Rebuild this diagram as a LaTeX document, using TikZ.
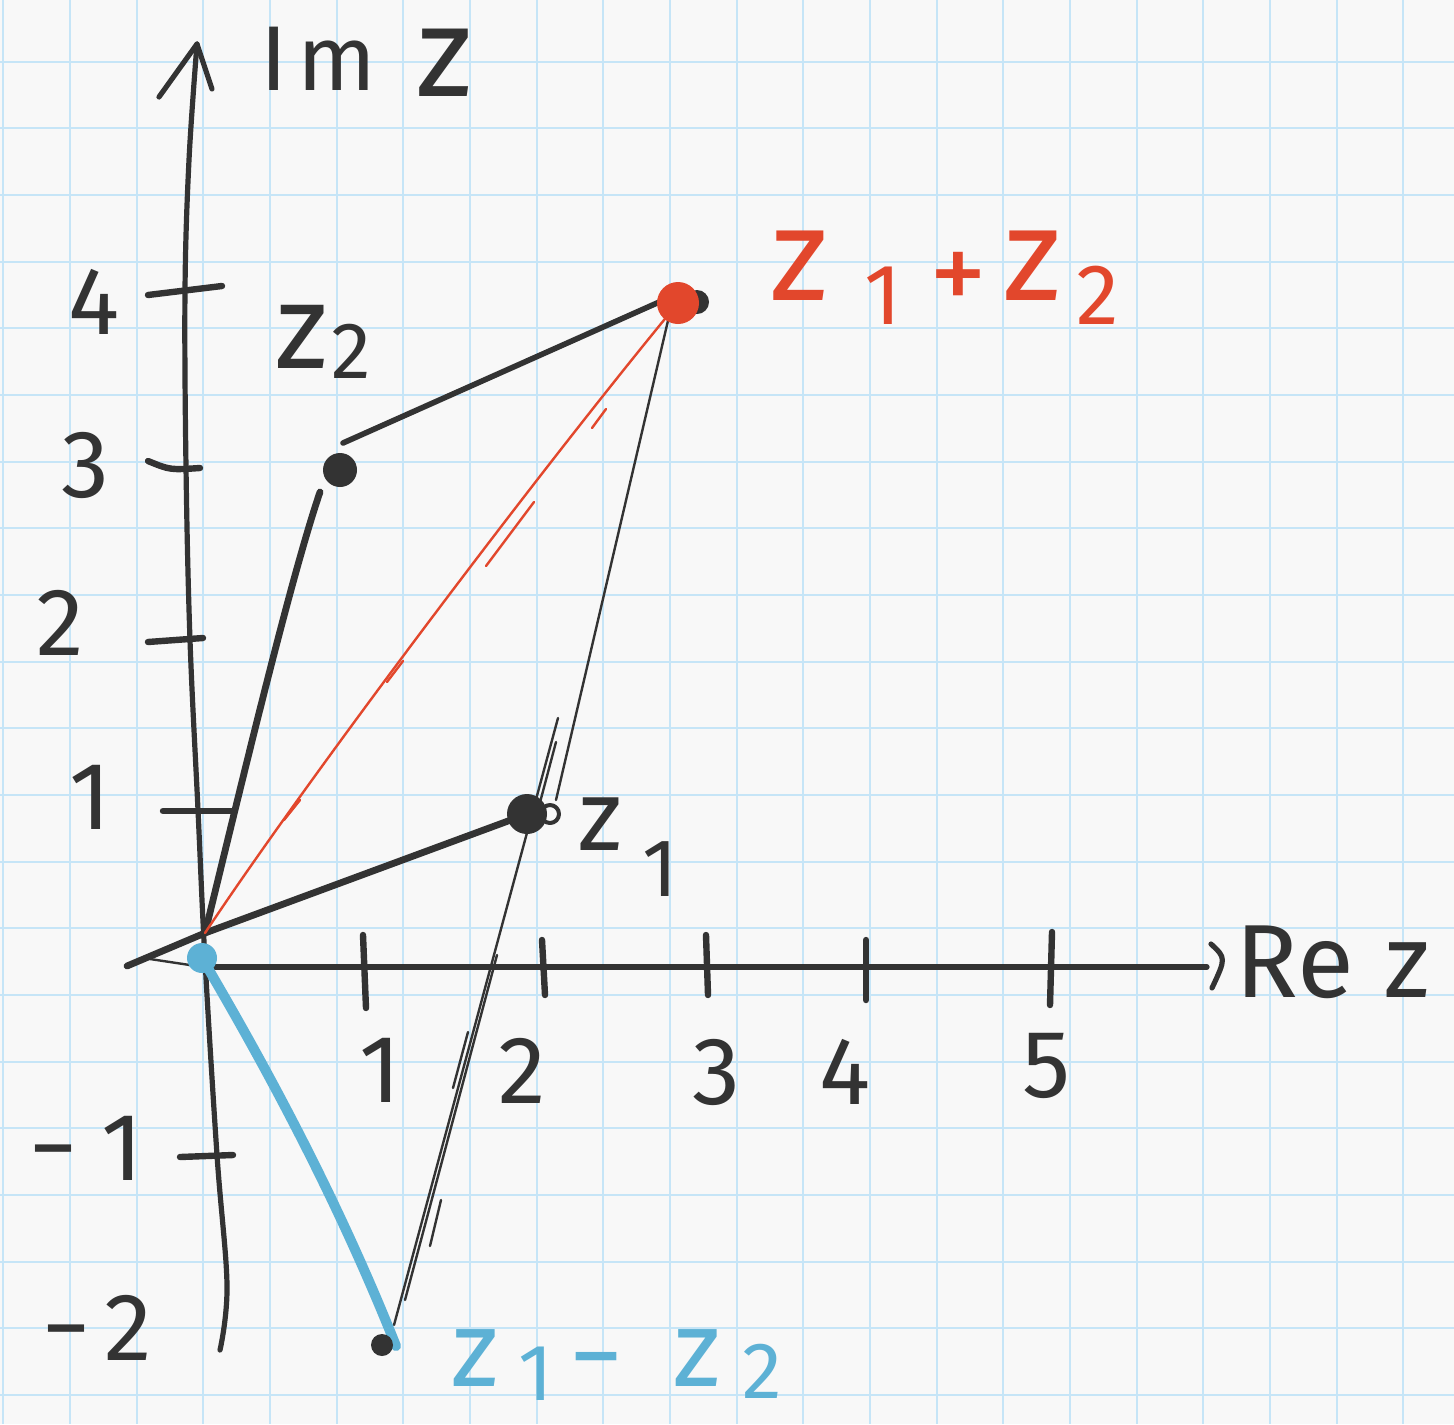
\documentclass[tikz,border=0pt]{standalone}
\usepackage{fontspec}
\setmainfont{Fira Sans}
\definecolor{inkc}{HTML}{333333}
\definecolor{redc}{HTML}{E2472C}
\definecolor{bluec}{HTML}{5DB1D5}
\definecolor{gridc}{HTML}{C6E5F7}
\definecolor{paperc}{HTML}{F8F8F8}
% lowered, smaller digit: #1 = font size, #2 = drop, #3 = text
\newcommand{\lowdig}[3]{\raisebox{-#2}{\fontsize{#1}{#1}\selectfont #3}}
\begin{document}
\begin{tikzpicture}[x=0.5pt,y=-0.5pt,
  gridline/.style={draw=gridc, line width=1.1pt},
  ink/.style={draw=inkc, line cap=round, line join=round},
  axisline/.style={ink, line width=2.6pt},
  tickmark/.style={ink, line width=3.2pt},
  thickline/.style={ink, line width=3.4pt},
  midline/.style={ink, line width=2.8pt},
  thinline/.style={ink, line width=1.2pt},
  redline/.style={draw=redc, line width=1.2pt, line cap=round},
  blueline/.style={draw=bluec, line width=5pt, line cap=round, line join=round},
  dotk/.style={circle, fill=inkc, inner sep=0pt},
  dotr/.style={circle, fill=redc, inner sep=0pt},
  dotb/.style={circle, fill=bluec, inner sep=0pt},
  lbl/.style={text=inkc, inner sep=0pt, font=\fontsize{48}{48}\selectfont},
  sumlbl/.style={inner sep=0pt, anchor=base west}
]
\useasboundingbox (0,0) rectangle (1454,1424);
\fill[paperc] (0,0) rectangle (1454,1424);
\foreach \i in {0,...,21} \draw[gridline] ({3.3+66.667*\i},0) -- ({3.3+66.667*\i},1424);
\foreach \j in {1,...,21} \draw[gridline] (0,{-5+66.667*\j}) -- (1454,{-5+66.667*\j});

% key points
\coordinate (O) at (205,933);
\coordinate (tail) at (127,966);
\coordinate (z1) at (527,814);
\coordinate (z2) at (340,470);
\coordinate (z2lo) at (320,492);
\coordinate (z2hi) at (343,443);
\coordinate (s) at (678,303);
\coordinate (sin) at (666,299);
\coordinate (d) at (382,1345);
\coordinate (dline) at (394,1325);
\coordinate (dblue) at (396,1346);
\coordinate (ob) at (202,958);

% vertical axis
\coordinate (ytop) at (197,44);
\coordinate (ybot) at (220,1350);
\draw[axisline] plot[smooth, tension=0.6] coordinates {(220,1350) (227,1285) (217,1155) (205,960) (198,810) (190,640) (186,467) (185,290) (189,160) (197,44)};
\coordinate (arl) at (159,97);
\coordinate (arr) at (212,89);
\draw[axisline] (arl) -- (ytop) -- (arr);

% horizontal axis
\coordinate (xl) at (150,959);
\coordinate (xo) at (203,967);
\coordinate (xr) at (1207,967);
\draw[thinline] (xl) -- (xo);
\draw[axisline] (xo) -- (xr);
\coordinate (hk1) at (1211,944);
\coordinate (hk2) at (1212,988);
\draw[axisline] (hk1) .. controls (1226,958) .. (hk2);

% ticks
\draw[tickmark] (363,935) -- (366,1008);
\draw[tickmark] (542,940) -- (545,995);
\draw[tickmark] (706,935) -- (708,995);
\draw[tickmark] (866,940) -- (866,1000);
\draw[tickmark] (1052,932) -- (1050,1005);
\draw[tickmark] (148,295) -- (222,286);
\draw[tickmark] (148,461) .. controls (170,470) .. (200,468);
\draw[tickmark] (148,642) -- (203,638);
\draw[tickmark] (163,811) -- (232,811);
\draw[tickmark] (180,1157) -- (233,1155);

% tick labels
\node[lbl] (x1) at (380,1070) {1};
\node[lbl] (x2) at (522,1071) {2};
\node[lbl] (x3) at (716,1072) {3};
\node[lbl] (x4) at (845,1072) {4};
\node[lbl] (x5) at (1047,1066) {5};
\node[lbl] (y4) at (94,302) {4};
\node[lbl] (y3) at (85,465) {3};
\node[lbl] (y2) at (60,623) {2};
\node[lbl] (y1) at (90,797) {1};
\node[lbl] (ym1) at (86,1148) {−\hspace{0.25em}1};
\node[lbl] (ym2) at (97,1328) {−\hspace{0.15em}2};

% axis labels
\node[sumlbl, text=inkc, font=\fontsize{46}{46}\selectfont] (imz) at (260,90)
  {I\hspace{5pt}m\hspace{20pt}{\fontsize{64}{64}\selectfont\raisebox{-3pt}{z}}};
\node[lbl, font=\fontsize{52}{52}\selectfont] (rez) at (1333,962) {Re\hspace{0.3em}z};

% black vectors
\draw[thickline] (tail) -- (O) -- (z1);
\draw[thickline] (O) .. controls (240,790) and (290,580) .. (z2lo);
\draw[midline] (z2hi) -- (sin);

% thin line z1-z2 -> z1 -> z1+z2
\coordinate (upA) at (558,718);
\coordinate (upB) at (556,800);
\coordinate (upC) at (670,312);
\draw[thinline] (dline) -- (upA);
\draw[thinline] (upB) -- (upC);
\draw[thinline] (405,1300) -- (497,955);
\draw[thinline] (430,1246) -- (441,1200);
\draw[thinline] (453,1088) -- (468,1032);
\draw[thinline] (538,810) -- (556,742);

% red diagonal
\draw[redline] (O) .. controls (310,775) and (540,470) .. (s);
\draw[redline] (284,820) -- (300,800);
\draw[redline] (387,682) -- (403,661);
\draw[redline] (486,566) -- (534,502);
\draw[redline] (592,428) -- (606,409);

% blue difference
\draw[blueline] (ob) .. controls (250,1040) and (330,1180) .. (dblue);

% points
\node[dotk, minimum size=20pt] (Z1dot) at (z1) {};
\draw[ink, line width=2pt] (550,814) circle (4.5pt);
\node[dotk, minimum size=17pt] (Z2dot) at (z2) {};
\node[dotk, minimum size=12pt] (Sbk) at (697,302) {};
\node[dotr, minimum size=21pt] (Sdot) at (s) {};
\node[dotk, minimum size=11pt] (Ddot) at (d) {};
\node[dotb, minimum size=15pt] (Odot) at (ob) {};

% point labels
\node[sumlbl, text=inkc, font=\fontsize{60}{60}\selectfont] (lz2) at (275,368)
  {z\hspace{2pt}\lowdig{40pt}{5pt}{2}};
\node[sumlbl, text=inkc, font=\fontsize{50}{50}\selectfont] (lz1) at (578,850)
  {z\hspace{10pt}\lowdig{41pt}{23pt}{1}};
\node[sumlbl, text=redc, font=\fontsize{66}{66}\selectfont] (lsum) at (770,300)
  {z\hspace{18pt}\lowdig{43pt}{12pt}{1}\hspace{14pt}{\fontsize{58}{58}\selectfont\raisebox{-6pt}{+}}\hspace{8pt}z\hspace{8pt}\lowdig{43pt}{12pt}{2}};
\node[sumlbl, text=bluec, font=\fontsize{54}{54}\selectfont] (ldiff) at (451,1386)
  {z\hspace{10pt}\lowdig{40pt}{7pt}{1}\hspace{8pt}\raisebox{-3pt}{−}\hspace{25pt}z\hspace{11pt}\lowdig{40pt}{6pt}{2}};
\end{tikzpicture}
\end{document}
